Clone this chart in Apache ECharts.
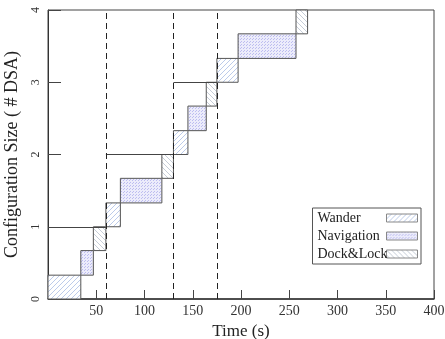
<!DOCTYPE html>
<html>
<head>
<meta charset="utf-8">
<script src="https://cdn.jsdelivr.net/npm/echarts@6/dist/echarts.min.js"></script>
<style>
  html, body { margin: 0; padding: 0; background: #fff; }
  #chart { width: 445px; height: 339px; }
</style>
</head>
<body>
<div id="chart"></div>
<script>
// boxes: [start time, end time, low size, high size]
const wanderBoxes = [[0, 34, 0, 0.33], [60, 75, 1, 1.33], [130, 145, 2, 2.33], [175, 197, 3, 3.33]];
const navigationBoxes = [[34, 47, 0.33, 0.67], [75, 118, 1.33, 1.67], [145, 164, 2.33, 2.67], [197, 257, 3.33, 3.67]];
const dockBoxes = [[47, 60, 0.67, 1], [118, 130, 1.67, 2], [164, 175, 2.67, 3], [257, 269, 3.67, 4]];

// level reached in each phase: [from, to, size]
const levelLines = [[0, 60, 1], [60, 130, 2], [130, 175, 3]];
const phaseBounds = [60, 130, 175];

const legendNames = ['Wander', 'Navigation', 'Dock&Lock'];

const font = 'Liberation Serif';

// hatch / dot patterns
function makePattern(kind) {
  const c = document.createElement('canvas');
  const ctx = c.getContext('2d');
  if (kind === 'dots') {
    c.width = 3; c.height = 3;
    ctx.fillStyle = '#ececfb';
    ctx.fillRect(0, 0, 3, 3);
    ctx.fillStyle = '#bdbdf0';
    ctx.fillRect(0, 0, 1, 1);
    ctx.fillRect(1, 2, 1, 1);
  } else {
    c.width = 5; c.height = 5;
    ctx.fillStyle = '#ffffff';
    ctx.fillRect(0, 0, 5, 5);
    ctx.strokeStyle = kind === 'fwd' ? '#bccbea' : '#c6cdd8';
    ctx.lineWidth = 1;
    ctx.beginPath();
    if (kind === 'fwd') {
      ctx.moveTo(-1, 6); ctx.lineTo(6, -1);
      ctx.moveTo(-1, 1); ctx.lineTo(1, -1);
      ctx.moveTo(4, 6); ctx.lineTo(6, 4);
    } else {
      ctx.moveTo(-1, -1); ctx.lineTo(6, 6);
      ctx.moveTo(4, -1); ctx.lineTo(6, 1);
      ctx.moveTo(-1, 4); ctx.lineTo(1, 6);
    }
    ctx.stroke();
  }
  return { image: c, repeat: 'repeat' };
}

const patterns = {
  Wander: makePattern('fwd'),
  Navigation: makePattern('dots'),
  'Dock&Lock': makePattern('back')
};

function boxSeries(name, data) {
  const fill = patterns[name];
  return {
    type: 'custom',
    name: name,
    data: data,
    encode: { x: [0, 1], y: [2, 3] },
    itemStyle: { color: fill, borderColor: '#777', borderWidth: 1 },
    renderItem: function (params, api) {
      const p0 = api.coord([api.value(0), api.value(3)]);
      const p1 = api.coord([api.value(1), api.value(2)]);
      return {
        type: 'rect',
        shape: { x: p0[0], y: p0[1], width: p1[0] - p0[0], height: p1[1] - p0[1] },
        style: { fill: fill, stroke: '#555', lineWidth: 1 }
      };
    }
  };
}

const chart = echarts.init(document.getElementById('chart'));

chart.setOption({
  animation: false,
  grid: {
    left: 48, right: 11, top: 10, bottom: 40,
    outerBoundsMode: 'none',
    show: true, borderColor: '#444', borderWidth: 1
  },
  legend: {
    orient: 'vertical',
    right: 24,
    top: 208,
    align: 'right',
    icon: 'rect',
    itemWidth: 31,
    itemHeight: 8,
    itemGap: 4,
    padding: [3, 3, 3, 5],
    borderColor: '#555',
    borderWidth: 1,
    data: legendNames.map(n => ({
      name: n,
      itemStyle: { color: patterns[n], borderColor: '#888', borderWidth: 1 }
    })),
    formatter: n => '{t|' + n + '}',
    textStyle: {
      fontFamily: font, fontSize: 14, color: '#222',
      rich: { t: { width: 64, align: 'left', fontFamily: font, fontSize: 14, color: '#222', lineHeight: 15 } }
    }
  },
  xAxis: {
    type: 'value',
    min: 0, max: 400, interval: 50,
    name: 'Time (s)',
    nameLocation: 'middle',
    nameGap: 24,
    nameTextStyle: { fontFamily: font, fontSize: 17, color: '#222' },
    axisLine: { show: true, lineStyle: { color: '#333', width: 1.5 } },
    axisTick: { inside: true, length: 9, lineStyle: { color: '#444' } },
    axisLabel: {
      fontFamily: font, fontSize: 14, color: '#333', margin: 5,
      formatter: v => (v === 0 ? '' : String(v))
    },
    splitLine: { show: false }
  },
  yAxis: {
    type: 'value',
    min: 0, max: 4, interval: 1,
    name: 'Configuration Size ( # DSA)',
    nameLocation: 'middle',
    nameGap: 27,
    nameTextStyle: { fontFamily: font, fontSize: 18, color: '#222' },
    axisLine: { show: true, lineStyle: { color: '#333', width: 1 } },
    axisTick: { inside: true, length: 13, lineStyle: { color: '#444' } },
    axisLabel: { fontFamily: font, fontSize: 12, color: '#333', rotate: 90, margin: 6 },
    splitLine: { show: false }
  },
  series: [
    boxSeries('Wander', wanderBoxes),
    boxSeries('Navigation', navigationBoxes),
    boxSeries('Dock&Lock', dockBoxes),
    {
      type: 'line',
      name: 'levels',
      data: [],
      silent: true,
      markLine: {
        symbol: 'none',
        silent: true,
        label: { show: false },
        data: levelLines.map(l => [
          { coord: [l[0], l[2]], lineStyle: { type: 'solid', color: '#444', width: 1 } },
          { coord: [l[1], l[2]] }
        ]).concat(phaseBounds.map(x => ({
          xAxis: x,
          lineStyle: { type: [6, 4], color: '#222', width: 1 }
        })))
      }
    }
  ]
});
</script>
</body>
</html>
